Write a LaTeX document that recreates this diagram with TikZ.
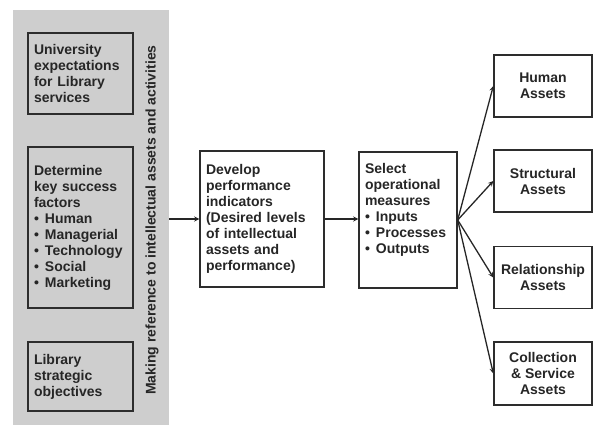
\documentclass[tikz,border=0pt]{standalone}
\usepackage{fontspec}
\setmainfont{Liberation Sans}
\usepackage{tikz}
\usetikzlibrary{arrows}

\definecolor{panelgray}{RGB}{206,206,206}
\definecolor{linegray}{RGB}{45,45,45}
\tikzset{
    box/.style={draw=linegray, line width=1.4pt, align=left, inner sep=6pt,
        font=\fontsize{14}{16}\selectfont\bfseries, text=black!85},
    assetbox/.style={box, fill=white, align=center, minimum width=98pt},
    arrow/.style={->, >=stealth, line width=1.3pt, draw=black!85}
}
\newcommand{\bul}{\makebox[11pt][l]{\textbullet}}

\begin{document}
\begin{tikzpicture}[x=1pt, y=-1pt]
    \useasboundingbox (0,0) rectangle (593,425);

    % Grey panel on the left
    \node[fill=panelgray, minimum width=156pt, minimum height=415pt, inner sep=0pt] (panel) at (91,217.5) {};

    % Boxes inside the panel
    \node[box, text width=93pt, minimum height=81pt] (univ) at (80.5,73.5)
        {University\\expectations\\for Library\\services};
    \node[box, text width=93pt, minimum height=161pt] (ksf) at (80.5,227.5)
        {Determine\\key success\\factors\\
         \bul Human\\\bul Managerial\\\bul Technology\\\bul Social\\\bul Marketing};
    \node[box, text width=93pt, minimum height=69pt] (strat) at (80.5,376.5)
        {Library\\strategic\\objectives};

    % Side label
    \node[rotate=90, font=\fontsize{14}{16}\selectfont\bfseries, text=black!85] (making) at (152,220)
        {Making reference to intellectual assets and activities};

    % Middle boxes
    \node[box, fill=white, text width=112pt, minimum height=136pt] (develop) at (262,219)
        {Develop\\performance\\indicators\\(Desired levels\\of intellectual\\assets and\\performance)};
    \node[box, fill=white, text width=86pt, minimum height=136pt] (select) at (408,220)
        {Select\\operational\\measures\\\bul Inputs\\\bul Processes\\\bul Outputs\par\vspace{20pt}};

    % Asset boxes
    \node[assetbox, minimum height=62pt] (human) at (543,86) {Human\\Assets};
    \node[assetbox, minimum height=62pt] (struct) at (543,181) {Structural\\Assets};
    \node[assetbox, minimum height=62pt] (relation) at (543,277.5) {Relationship\\Assets};
    \node[assetbox, minimum height=63pt] (collect) at (543,373.5) {Collection\\\& Service\\Assets};

    % Connectors
    \draw[arrow] (panel.east |- develop.west) -- (develop.west);
    \draw[arrow] (develop.east) -- (select.west |- develop.east);
    \draw[arrow] (select.east) -- (human.west);
    \draw[arrow] (select.east) -- (struct.west);
    \draw[arrow] (select.east) -- (relation.west);
    \draw[arrow] (select.east) -- (collect.west);
\end{tikzpicture}
\end{document}
